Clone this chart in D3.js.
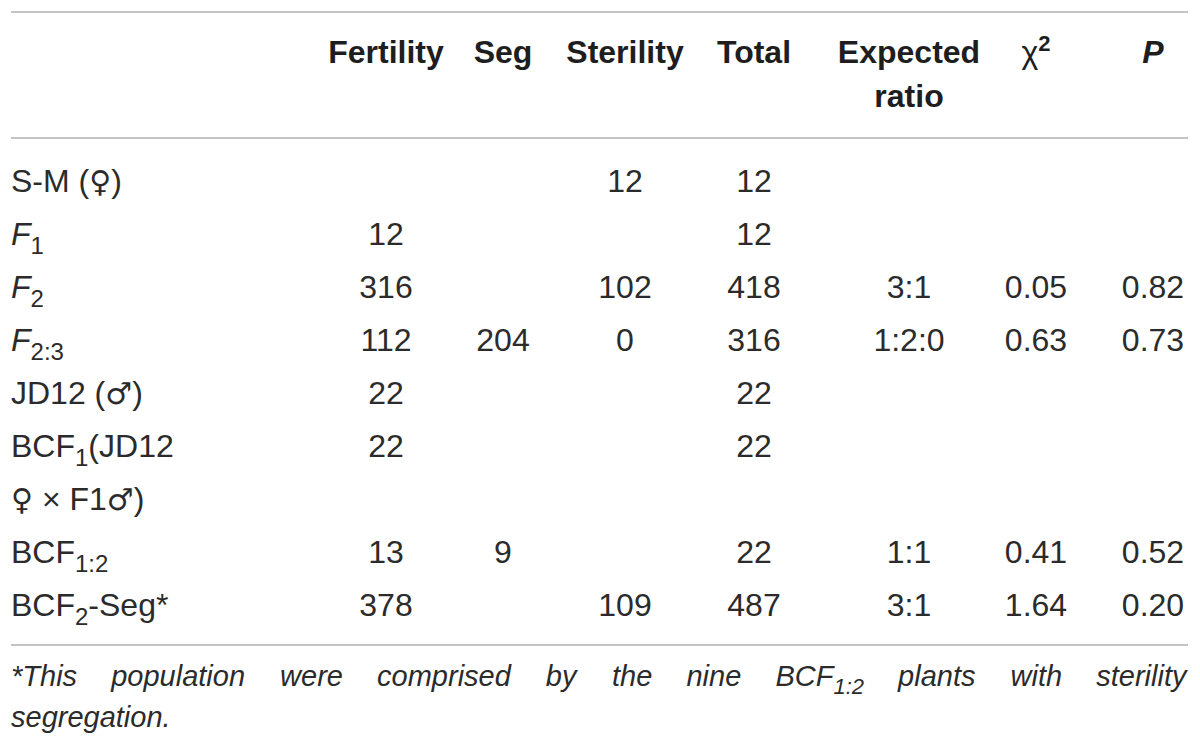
<!DOCTYPE html>
<html>
<head>
<meta charset="utf-8">
<script src="https://cdn.jsdelivr.net/npm/d3@7"></script>
<style>
  body { margin: 0; background: #fff; }
  svg text { font-family: "Liberation Sans", Arial, sans-serif; fill: #2b2b2b; }
  svg .head text { fill: #1e1e1e; }
  svg .sym { font-family: "DejaVu Sans", sans-serif; }
</style>
</head>
<body>
<svg id="table"></svg>
<script>
// row labels, as segments: [text, kind] where kind is "", "i" (italic), "sub" or "sym"
const rowLabels = [
  [[["S-M (", ""], ["♀", "sym"], [")", ""]]],
  [[["F", "i"], ["1", "sub"]]],
  [[["F", "i"], ["2", "sub"]]],
  [[["F", "i"], ["2:3", "sub"]]],
  [[["JD12 (", ""], ["♂", "sym"], [")", ""]]],
  [[["BCF", ""], ["1", "sub"], ["(JD12", ""]], [["♀", "sym"], [" × F1", ""], ["♂", "sym"], [")", ""]]],
  [[["BCF", ""], ["1:2", "sub"]]],
  [[["BCF", ""], ["2", "sub"], ["-Seg*", ""]]]
];

const colKeys = ["fertility", "seg", "sterility", "total", "expected", "chi2", "p"];

const fertility = [null, 12, 316, 112, 22, 22, 13, 378];
const seg       = [null, null, null, 204, null, null, 9, null];
const sterility = [12, null, 102, 0, null, null, null, 109];
const total     = [12, 12, 418, 316, 22, 22, 22, 487];
const expected  = [null, null, "3:1", "1:2:0", null, null, "1:1", "3:1"];
const chi2      = [null, null, 0.05, 0.63, null, null, 0.41, 1.64];
const pValue    = [null, null, 0.82, 0.73, null, null, 0.52, 0.20];

const footWords = ["*This", "population", "were", "comprised", "by", "the", "nine", "BCF|1:2", "plants", "with", "sterility"];
const footLast = "segregation.";

const width = 1200, height = 749;
const left = 11, right = 1188;
const fs = 32;

const svg = d3.select("#table").attr("width", width).attr("height", height);

const x = d3.scaleOrdinal()
    .domain(colKeys)
    .range([386, 503, 625, 754, 909, 1036, 1153]);

// one unit per text line in the body
const y = d3.scaleLinear().domain([0, 8]).range([192, 616]);

const fmt = (v, k) => v == null ? "" : (k === "chi2" || k === "p") ? d3.format(".2f")(v) : String(v);

// rules
const rule = yy => svg.append("line")
    .attr("x1", left).attr("x2", right)
    .attr("y1", yy).attr("y2", yy)
    .attr("stroke", "#c4c4c4").attr("stroke-width", 2);
rule(12); rule(138); rule(645);

// header
const head = svg.append("g").attr("class", "head")
    .attr("font-size", fs).attr("font-weight", "bold").attr("text-anchor", "middle");
head.append("text").attr("x", x("fertility")).attr("y", 63).text("Fertility");
head.append("text").attr("x", x("seg")).attr("y", 63).text("Seg");
head.append("text").attr("x", x("sterility")).attr("y", 63).text("Sterility");
head.append("text").attr("x", x("total")).attr("y", 63).text("Total");
head.append("text").attr("x", x("expected")).attr("y", 63).text("Expected");
head.append("text").attr("x", x("expected")).attr("y", 107).text("ratio");
const chiHead = head.append("text").attr("x", x("chi2")).attr("y", 63);
chiHead.append("tspan").attr("font-weight", "normal").text("χ");
chiHead.append("tspan").attr("font-size", 22).attr("dy", -12).text("2");
head.append("text").attr("x", x("p")).attr("y", 63).attr("font-style", "italic").text("P");

// row labels
let line = 0;
const lineIdx = [];
rowLabels.forEach(lines => {
  lineIdx.push(line);
  lines.forEach((segs, j) => {
    const t = svg.append("text")
        .attr("x", left)
        .attr("y", y(line + j))
        .attr("font-size", fs);
    segs.forEach(([txt, kind], k) => {
      const prevSub = k > 0 && segs[k - 1][1] === "sub";
      const ts = t.append("tspan").text(txt);
      if (kind === "i") ts.attr("font-style", "italic");
      if (kind === "sym") ts.attr("class", "sym").attr("font-size", 30);
      if (kind === "sub") ts.attr("font-size", 24).attr("dy", 9);
      else if (prevSub) ts.attr("dy", -9);
    });
  });
  line += lines.length;
});

// body cells
const columns = { fertility, seg, sterility, total, expected, chi2: chi2, p: pValue };
const cells = [];
colKeys.forEach(k => columns[k].forEach((v, i) => { if (v != null) cells.push({ k, i, v }); }));

svg.append("g").selectAll("text")
  .data(cells)
  .join("text")
    .attr("x", d => x(d.k))
    .attr("y", d => y(lineIdx[d.i]))
    .attr("text-anchor", "middle")
    .attr("font-size", fs)
    .text(d => fmt(d.v, d.k));

// footnote, justified across the table width
const foot = svg.append("g").attr("font-size", 29).attr("font-style", "italic");
const words = footWords.map(w => {
  const t = foot.append("text").attr("y", 686);
  const [main, sub] = w.split("|");
  t.append("tspan").text(main);
  if (sub) t.append("tspan").attr("font-size", 22).attr("dy", 8).text(sub);
  return t;
});
const widths = words.map(t => t.node().getBBox().width);
const gap = (right - left - d3.sum(widths)) / (words.length - 1);
let cx = left;
words.forEach((t, i) => { t.attr("x", cx); cx += widths[i] + gap; });
foot.append("text").attr("x", left).attr("y", 727).text(footLast);
</script>
</body>
</html>
